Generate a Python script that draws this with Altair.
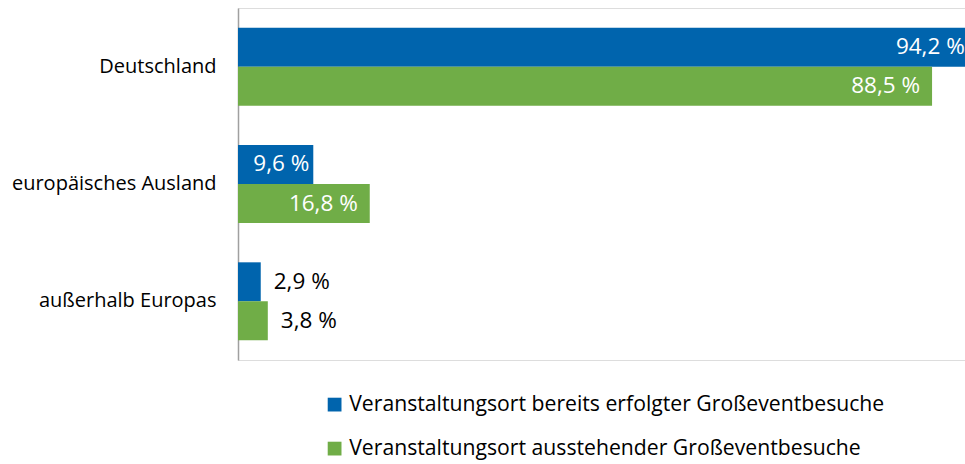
import altair as alt
import pandas as pd

categories = ["Deutschland", "europäisches Ausland", "außerhalb Europas"]
series = [
    "Veranstaltungsort bereits erfolgter Großeventbesuche",
    "Veranstaltungsort ausstehender Großeventbesuche",
]
values_done = [94.2, 9.6, 2.9]
values_pending = [88.5, 16.8, 3.8]
colors = ["#0064AD", "#70AD47"]

rows = []
for cat, a, b in zip(categories, values_done, values_pending):
    for s, v in zip(series, (a, b)):
        rows.append({
            "cat": cat,
            "series": s,
            "value": v,
            "label": f"{v:.1f}".replace(".", ",") + " %",
        })
df = pd.DataFrame(rows)

FONT = "Open Sans"
LBL = 22.5

y_enc = alt.Y("cat:N", sort=categories,
              scale=alt.Scale(paddingInner=0.335, paddingOuter=0.1675),
              axis=alt.Axis(title=None, ticks=False, labelPadding=22, labelFontSize=20,
                            labelFont=FONT, labelColor="#000000", domainColor="#A0A0A0",
                            domainWidth=1.5, labelLimit=300))
yoff = alt.YOffset("series:N", sort=series, scale=alt.Scale(paddingInner=0, paddingOuter=0))
x_enc = alt.X("value:Q", scale=alt.Scale(domain=[0, 92.7], nice=False, zero=True),
              axis=None)

base = alt.Chart(df)

bars = base.mark_bar(clip=True).encode(
    x=x_enc, y=y_enc, yOffset=yoff,
    color=alt.Color("series:N", sort=series,
                    scale=alt.Scale(domain=series, range=colors),
                    legend=alt.Legend(title=None, orient="none", legendX=86, legendY=386,
                                      direction="vertical", symbolType="square",
                                      symbolSize=190, symbolStrokeWidth=0,
                                      labelFont=FONT, labelFontSize=21.2, labelColor="#000000",
                                      rowPadding=22, labelOffset=4, labelLimit=700)),
)

y_plain = alt.Y("cat:N", sort=categories)

inside_big = base.transform_filter("datum.value >= 12").mark_text(
    align="right", baseline="middle", dx=-12, color="white", font=FONT, fontSize=LBL
).encode(x="value:Q", y=y_plain, yOffset=yoff, text="label:N")

inside_small = base.transform_filter("datum.value > 5 && datum.value < 12").mark_text(
    align="right", baseline="middle", dx=-4, color="white", font=FONT, fontSize=LBL
).encode(x="value:Q", y=y_plain, yOffset=yoff, text="label:N")

outside = base.transform_filter("datum.value <= 5").mark_text(
    align="left", baseline="middle", dx=13, color="black", font=FONT, fontSize=LBL
).encode(x="value:Q", y=y_plain, yOffset=yoff, text="label:N")

chart = alt.layer(bars, inside_big, inside_small, outside).properties(
    width=727, height=352,
    autosize=alt.AutoSizeParams(type="none"),
    padding={"left": 238, "top": 8, "right": 0, "bottom": 104},
).configure_view(stroke=None).configure(background="white")

chart.save("out.html", embed_options={"renderer": "svg", "actions": False})
